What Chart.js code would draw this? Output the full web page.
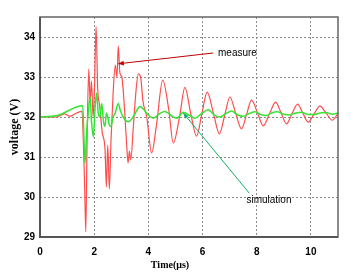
<!DOCTYPE html>
<html>
<head>
<meta charset="utf-8">
<script src="https://cdn.jsdelivr.net/npm/chart.js@4.4.1/dist/chart.umd.min.js"></script>
<style>
  html, body { margin: 0; padding: 0; background: #fff; }
  #wrap { width: 351px; height: 275px; }
</style>
</head>
<body>
<div id="wrap"><canvas id="volt"></canvas></div>
<script>
// measured waveform (red)
var measureT = [0, 0.6, 0.9, 1.1, 1.35, 1.55, 1.6, 1.65, 1.69, 1.74, 1.8, 1.85, 1.9, 1.96, 2.01, 2.07, 2.13, 2.2, 2.3,
    2.4, 2.45, 2.5, 2.56, 2.62, 2.7, 2.78, 2.84, 2.89, 2.95, 3.02, 3.1, 3.2, 3.25, 3.3, 3.35, 3.45, 3.55, 3.63, 3.72,
    3.8, 3.94, 4.12, 4.3, 4.53, 4.75, 4.92, 5.15, 5.35, 5.56, 5.78, 5.98, 6.17, 6.4, 6.62, 6.82, 7.01, 7.22, 7.44,
    7.62, 7.81, 8.03, 8.24, 8.47, 8.7, 8.9, 9.1, 9.3, 9.51, 9.7, 9.9, 10.12, 10.33, 10.56, 10.79, 11];
var measureV = [32.0, 32.0, 32.08, 32.02, 32.1, 32.14, 31.4, 30.2, 29.13, 31.5, 33.2, 32.4, 32.9, 32.0, 32.7, 34.26, 32.7, 32.3, 31.6,
    31.2, 30.25, 31.3, 30.2, 31.4, 32.6, 33.3, 33.0, 33.77, 33.1, 33.0, 32.4, 31.3, 30.85, 31.15, 30.93, 31.8, 32.7, 33.08, 32.97,
    32.4, 32.0, 31.1, 31.8, 32.92, 32.2, 31.35, 32.0, 32.74, 32.1, 31.52, 32.1, 32.62, 32.1, 31.58, 32.05, 32.5, 32.1, 31.7,
    32.05, 32.42, 32.1, 31.78, 32.08, 32.37, 32.1, 31.83, 32.08, 32.32, 32.1, 31.87, 32.08, 32.27, 32.1, 31.92, 32.1];

// simulated waveform (green)
var simT = [0, 0.6, 1.58, 1.62, 1.66, 1.72, 1.78, 1.85, 1.9, 1.97, 2.03, 2.09, 2.15, 2.21, 2.28, 2.34, 2.4, 2.45, 2.5,
    2.56, 2.62, 2.7, 2.77, 2.89, 2.95, 3.07, 3.26, 3.44, 3.62, 3.69, 3.81, 4.0, 4.18, 4.43, 4.6, 4.92, 5.05, 5.29, 5.5,
    5.72, 5.95, 6.21, 6.45, 6.65, 6.85, 7.07, 7.3, 7.5, 7.7, 7.95, 8.15, 8.35, 8.55, 8.75, 9.0, 9.2, 9.45, 9.65, 9.9,
    10.1, 10.35, 10.55, 10.8, 11];
var simV = [32.0, 32.03, 32.28, 31.5, 30.84, 31.6, 32.1, 32.5, 31.9, 31.5, 32.2, 32.6, 32.1, 32.0, 32.34, 31.9, 31.76, 32.1, 32.0,
    31.8, 31.76, 32.0, 32.09, 32.34, 32.2, 32.0, 31.88, 32.0, 32.22, 32.26, 32.2, 32.05, 31.97, 32.09, 32.14, 32.0, 31.97, 32.12, 32.05,
    31.97, 32.08, 32.18, 32.04, 32.0, 32.08, 32.15, 32.05, 32.02, 32.08, 32.13, 32.06, 32.04, 32.1, 32.13, 32.07, 32.05, 32.1, 32.12, 32.06,
    32.06, 32.1, 32.11, 32.07, 32.1];

var xTicks = [0, 2, 4, 6, 8, 10];
var yTicks = [29, 30, 31, 32, 33, 34];

function pts(t, v) {
    return t.map(function (x, i) { return { x: x, y: v[i] }; });
}

// arrows + labels, anchored in data units
var notes = {
    id: 'notes',
    afterDraw: function (chart) {
        var c = chart.ctx, xs = chart.scales.x, ys = chart.scales.y, a = chart.chartArea;

        function arrow(x0, y0, x1, y1, col) {
            var px0 = xs.getPixelForValue(x0), py0 = ys.getPixelForValue(y0);
            var px1 = xs.getPixelForValue(x1), py1 = ys.getPixelForValue(y1);
            var ang = Math.atan2(py1 - py0, px1 - px0);
            c.save();
            c.strokeStyle = col; c.fillStyle = col; c.lineWidth = 1;
            c.beginPath(); c.moveTo(px0, py0); c.lineTo(px1, py1); c.stroke();
            c.beginPath();
            c.moveTo(px1, py1);
            c.lineTo(px1 - 6 * Math.cos(ang - 0.4), py1 - 6 * Math.sin(ang - 0.4));
            c.lineTo(px1 - 6 * Math.cos(ang + 0.4), py1 - 6 * Math.sin(ang + 0.4));
            c.closePath(); c.fill();
            c.restore();
        }
        arrow(6.39, 33.6, 2.89, 33.33, '#c00000');
        arrow(7.72, 30.1, 5.29, 32.1, '#10b060');

        c.save();
        c.fillStyle = '#000';
        c.font = '10px "Liberation Sans", Arial, sans-serif';
        c.textBaseline = 'middle';
        c.fillText('measure', xs.getPixelForValue(6.57), ys.getPixelForValue(33.6));
        c.fillText('simulation', xs.getPixelForValue(7.62), ys.getPixelForValue(29.93));

        // x axis title sits a little left of centre in the original
        c.font = 'bold 10px "Liberation Serif", "Times New Roman", serif';
        c.textAlign = 'center';
        c.fillText('Time(μs)', 170, 265);

        // frame
        c.strokeStyle = '#666'; c.lineWidth = 1.5;
        c.strokeRect(a.left, a.top, a.right - a.left, a.bottom - a.top);
        c.strokeStyle = '#555'; c.lineWidth = 2;
        c.beginPath();
        c.moveTo(a.left, a.top); c.lineTo(a.left, a.bottom); c.lineTo(a.right, a.bottom);
        c.stroke();
        c.restore();
    }
};

var ctx = document.getElementById('volt').getContext('2d');

var myChart = new Chart(ctx, {
    type: 'line',
    data: {
        datasets: [
            {
                label: 'measure',
                data: pts(measureT, measureV),
                borderColor: '#ff4d4d',
                borderWidth: 1.2,
                pointRadius: 0,
                cubicInterpolationMode: 'monotone',
                order: 1
            },
            {
                label: 'simulation',
                data: pts(simT, simV),
                borderColor: '#33e633',
                borderWidth: 1.5,
                pointRadius: 0,
                cubicInterpolationMode: 'monotone',
                order: 0
            }
        ]
    },
    options: {
        responsive: true,
        maintainAspectRatio: false,
        animation: false,
        layout: { padding: { left: 0, top: 17, right: 13, bottom: 0 } },
        plugins: {
            legend: { display: false },
            tooltip: { enabled: false }
        },
        scales: {
            x: {
                type: 'linear',
                min: 0,
                max: 11,
                afterBuildTicks: function (s) {
                    s.ticks = xTicks.map(function (v) { return { value: v }; });
                },
                afterFit: function (s) { s.height = 38; },
                border: { display: false, dash: [2, 2] },
                grid: { color: '#8c8c8c', lineWidth: 1, drawTicks: false },
                ticks: {
                    padding: 9,
                    maxRotation: 0,
                    color: '#000',
                    font: { family: '"Liberation Sans", Arial, sans-serif', size: 10, weight: 'bold' }
                }
            },
            y: {
                min: 29,
                max: 34.5,
                afterBuildTicks: function (s) {
                    s.ticks = yTicks.map(function (v) { return { value: v }; });
                },
                afterFit: function (s) { s.width = 40; },
                border: { display: false, dash: [2, 2] },
                grid: { color: '#8c8c8c', lineWidth: 1, drawTicks: false },
                title: {
                    display: true,
                    text: 'voltage (V)',
                    color: '#000',
                    padding: { top: 8, bottom: 0 },
                    font: { family: '"Liberation Serif", "Times New Roman", serif', size: 12, weight: 'bold' }
                },
                ticks: {
                    padding: 5,
                    color: '#000',
                    font: { family: '"Liberation Sans", Arial, sans-serif', size: 10, weight: 'bold' }
                }
            }
        }
    },
    plugins: [notes]
});
</script>
</body>
</html>
